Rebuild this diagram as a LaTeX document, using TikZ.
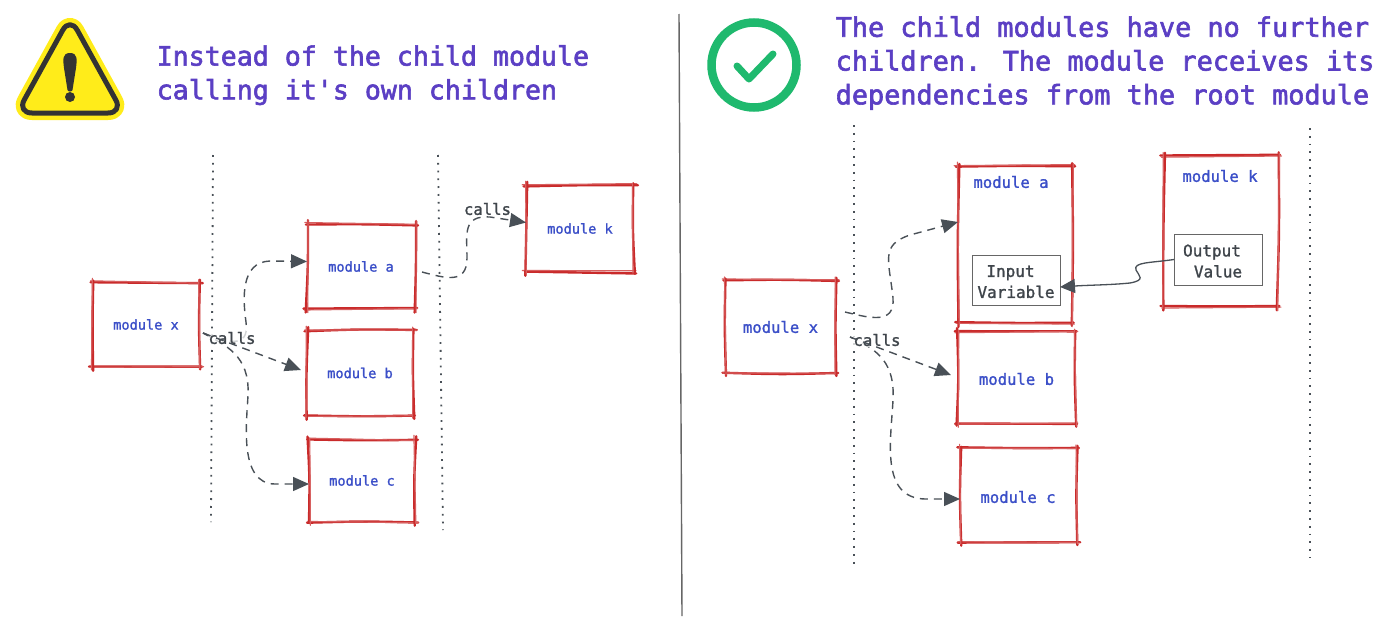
\documentclass[tikz,border=0pt]{standalone}
\usepackage{fontspec}
\setmainfont{DejaVu Sans Mono}
\newfontfamily\headfam[FakeBold=2.2]{DejaVu Sans Mono}
\newfontfamily\midfam[FakeBold=1.4]{DejaVu Sans Mono}
\usetikzlibrary{arrows.meta}
\definecolor{headc}{HTML}{5B3FC4}
\definecolor{bluec}{HTML}{3B4FC8}
\definecolor{redc}{HTML}{C92A2A}
\definecolor{inkc}{HTML}{495057}
\definecolor{txtc}{HTML}{3F454B}
\definecolor{warny}{HTML}{FFEC1A}
\definecolor{warnd}{HTML}{333333}
\definecolor{okc}{HTML}{1FB96E}
\definecolor{divc}{HTML}{666666}
\tikzset{
  headtext/.style={text=headc,align=left,anchor=north west,inner sep=0pt},
  modsmall/.style={text=bluec,inner sep=0pt,font=\midfam\fontsize{13.6}{16}\selectfont},
  modbig/.style={text=bluec,inner sep=0pt,font=\midfam\fontsize{15.6}{18}\selectfont},
  calltext/.style={text=txtc,inner sep=1pt,font=\midfam\fontsize{15.6}{20}\selectfont},
  boxn/.style={inner sep=0pt,outer sep=0pt},
  innerbox/.style={draw=divc,line width=1pt,inner sep=0pt,outer sep=0pt,text=txtc,align=center,font=\midfam\fontsize{16}{21}\selectfont},
  dotline/.style={draw=inkc,line width=1.8pt,dash pattern=on 1.8pt off 6pt},
  call/.style={draw=inkc,line width=1.4pt,dash pattern=on 8pt off 6pt,-{Triangle[length=16pt,width=14pt]}},
  link/.style={draw=inkc,line width=1.3pt,-{Triangle[length=15pt,width=14pt]}},
  skmain/.style={draw=redc,line width=2.4pt,line cap=round},
  skthin/.style={draw=redc!75,line width=1.2pt,line cap=round}
}
% one hand-drawn edge: a strong stroke and a thin one, slightly apart
\newcommand{\skedge}[4]{%
  \pgfmathsetmacro{\ja}{rnd*3-1.5}\pgfmathsetmacro{\jb}{rnd*3-1.5}\pgfmathsetmacro{\jc}{rnd*3-1.5}\pgfmathsetmacro{\jd}{rnd*3-1.5}%
  \draw[skmain] (#1+\ja,#2+\jb) .. controls ({(#1+#3)/2+\jc},{(#2+#4)/2+\jd}) .. (#3+\jb,#4+\ja);
  \draw[skthin] (#1+\jc,#2-\ja) -- (#3-\jd,#4+\jc);}
\newcommand{\skbox}[5]{%
  \pgfmathsetmacro{\bwd}{#4-#2}\pgfmathsetmacro{\bht}{#5-#3}%
  \pgfmathsetmacro{\bcx}{(#2+#4)/2}\pgfmathsetmacro{\bcy}{(#3+#5)/2}%
  \node[boxn,minimum width=\bwd pt,minimum height=\bht pt] (#1) at (\bcx,\bcy) {};
  \skedge{#2-2.5}{#3}{#4+2.5}{#3}\skedge{#2-2.5}{#5}{#4+2.5}{#5}%
  \skedge{#2}{#3-2.5}{#2}{#5+2.5}\skedge{#4}{#3-2.5}{#4}{#5+2.5}}
\begin{document}
\begin{tikzpicture}[x=1pt,y=-1pt]
\pgfmathsetseed{4217}
\useasboundingbox (0,0) rectangle (1400,624);
\fill[white] (0,0) rectangle (1400,624);
% divider
\draw[draw=divc,line width=1.4pt] (679,14) -- (682,616);
% warning icon
\path[fill=warny,draw=warny,line width=14pt,rounded corners=15pt,line join=round]
  (70,17) -- (123,113) -- (17,113) -- cycle;
\path[fill=warny,draw=warnd,line width=5pt,rounded corners=15pt,line join=round]
  (70,17) -- (123,113) -- (17,113) -- cycle;
\fill[warnd] (70,53) .. controls (62,53) and (63,60) .. (64,68) -- (67.5,90) .. controls (68,92) and (72,92) .. (72.5,90) -- (76,68) .. controls (77,60) and (78,53) .. (70,53) -- cycle;
\fill[warnd] (70,97) circle (5pt);
% check icon
\draw[okc,line width=8.5pt] (754,65) circle (42.5pt);
\draw[okc,line width=7pt,line cap=round,line join=round] (737,66) -- (749,79) -- (773,54);
% headings
\node[headtext,font=\headfam\fontsize{26.6}{33.8}\selectfont] (h1) at (156.5,45) {Instead of the child module\\calling it's own children};
\node[headtext,font=\headfam\fontsize{26.85}{33.8}\selectfont] (h2) at (835.5,16) {The child modules have no further\\children. The module receives its\\dependencies from the root module};
% dotted lines
\coordinate (d1a) at (213,155); \coordinate (d1b) at (211,522);
\coordinate (d2a) at (438,155); \coordinate (d2b) at (443,530);
\coordinate (d3a) at (854,125); \coordinate (d3b) at (854,565);
\coordinate (d4a) at (1310,128); \coordinate (d4b) at (1310,558);
\draw[dotline] (d1a) -- (d1b);
\draw[dotline] (d2a) -- (d2b);
\draw[dotline] (d3a) -- (d3b);
\draw[dotline] (d4a) -- (d4b);
% left boxes
\skbox{lx}{92}{282}{200}{367}
\skbox{la}{307}{224}{415}{309}
\skbox{lb}{307}{330}{413}{416}
\skbox{lc}{309}{439}{415}{522}
\skbox{lk}{526}{185}{634}{272}
\node[modsmall] at (lx) {module x};
\node[modsmall] at (la) {module a};
\node[modsmall] at (lb) {module b};
\node[modsmall] at (lc) {module c};
\node[modsmall] at (lk) {module k};
% right boxes
\skbox{rx}{725}{280}{836}{373}
\skbox{ra}{958}{166}{1072}{323}
\skbox{rb}{958}{332}{1075}{424}
\skbox{rc}{960}{448}{1077}{542}
\skbox{rk}{1164}{156}{1278}{307}
\node[modbig] at (780.5,327) {module x};
\node[modbig] at (1011,182) {module a};
\node[modbig] at (1016.5,379) {module b};
\node[modbig] at (1018,497) {module c};
\node[modbig] at (1220,176) {module k};
\node[innerbox,minimum width=88pt,minimum height=50pt] (inp) at (1016,280) {\rule{0pt}{15pt}Input\hspace*{11pt}\\Variable};
\node[innerbox,minimum width=88pt,minimum height=51pt] (outp) at (1218,259.5) {\rule{0pt}{15pt}Output\hspace*{12pt}\\Value};
% connectors, left
\coordinate (lxs) at (203,333);
\coordinate (las) at (422,272);
\coordinate (rxs) at (845,312);
\coordinate (rxt) at (850,337);
\draw[call] (lxs) .. controls (225,342) and (250,350) .. (246,322) .. controls (243,300) and (240,262) .. (270,261) -- ([yshift=5pt]la.west);
\draw[call] (lxs) .. controls (225,345) and (250,355) .. (248,395) .. controls (247,420) and (238,484) .. (275,484) -- ([yshift=-3.5pt]lc.west);
\node[calltext,fill=white,fill opacity=.75,text opacity=1] (c1) at (232,338) {calls};
\draw[call] (lxs) -- ([xshift=-6pt,yshift=3pt]lb.west);
\draw[call] (las) .. controls (445,278) and (467,285) .. (467,258) .. controls (467,235) and (462,215) .. (490,217) -- ([yshift=6pt]lk.west);
\node[calltext] (c2) at (487.5,209) {calls};
% connectors, right
\draw[call] (rxs) .. controls (870,318) and (895,325) .. (893,298) .. controls (889,260) and (880,245) .. (910,235) -- ([yshift=22.5pt]ra.west);
\draw[call] (rxt) .. controls (880,350) and (895,365) .. (893,400) .. controls (891,440) and (880,498) .. (925,499) -- ([yshift=-4pt]rc.west);
\node[calltext,fill=white,fill opacity=.75,text opacity=1] (c3) at (877,340) {calls};
\draw[call] (rxt) -- ([xshift=-7pt,yshift=3pt]rb.west);
\draw[link] (outp.west) .. controls (1150,263) and (1133,262) .. (1136,270) .. controls (1139,276) and (1146,280) .. (1130,283) .. controls (1110,285) and (1090,285) .. ([yshift=-7pt]inp.east);
\end{tikzpicture}
\end{document}
